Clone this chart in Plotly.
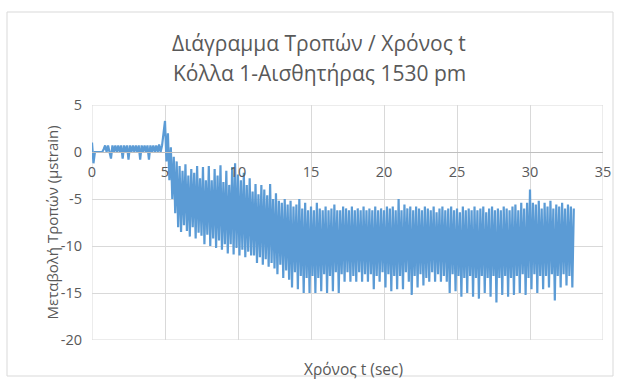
import plotly.graph_objects as go

# Sampling step of the strain recording (s)
dt = 0.1

# Strain change (μstrain), one row per second of recording
strain_rows = [
    [1.0, -1.2, 0.0, 0.0, 0.0, 0.0, 0.0, 0.0, 0.3, 0.7],
    [0.0, 0.7, 0.0, -0.7, 0.7, 0.0, 0.7, 0.0, 0.7, 0.0],
    [0.7, -0.7, 0.7, 0.0, 0.7, -0.8, 0.7, 0.0, 0.7, 0.0],
    [0.7, 0.0, 0.7, -0.8, 0.7, 0.0, 0.7, 0.0, 0.7, -0.8],
    [0.7, 0.0, 0.7, 0.0, 0.7, 0.0, 0.8, 0.0, 0.7, 1.8],
    [3.3, -1.0, 2.0, -3.0, 0.5, -5.0, -0.5, -6.5, -1.0, -8.0],
    [-1.5, -8.5, -2.0, -7.8, -1.3, -8.4, -2.5, -9.0, -1.8, -8.0],
    [-2.2, -9.2, -1.5, -8.6, -2.8, -8.9, -1.6, -9.8, -3.0, -8.8],
    [-1.5, -10.0, -3.0, -9.2, -1.8, -10.2, -2.5, -9.4, -1.4, -10.4],
    [-3.2, -9.8, -2.0, -10.8, -3.5, -9.8, -1.6, -10.9, -1.2, -10.2],
    [-2.4, -11.0, -3.0, -10.4, -2.2, -11.2, -3.5, -10.6, -2.8, -11.0],
    [-4.2, -11.0, -3.4, -11.8, -4.5, -11.2, -3.5, -12.0, -4.0, -11.4],
    [-4.6, -12.2, -3.4, -11.8, -5.0, -12.4, -4.4, -13.0, -5.2, -12.0],
    [-5.4, -13.4, -5.0, -12.6, -5.6, -13.6, -5.2, -14.4, -5.8, -12.8],
    [-5.6, -14.6, -5.0, -13.2, -6.0, -15.0, -5.4, -13.4, -6.2, -15.0],
    [-5.8, -13.2, -6.2, -15.0, -5.4, -13.4, -6.0, -14.8, -6.2, -13.0],
    [-5.8, -15.0, -6.2, -13.2, -6.0, -14.8, -5.6, -12.8, -6.2, -15.0],
    [-6.2, -13.0, -5.8, -13.8, -6.0, -12.8, -6.2, -13.8, -5.8, -13.2],
    [-6.2, -13.8, -6.0, -12.8, -6.2, -13.8, -5.8, -13.0, -6.2, -13.8],
    [-6.0, -13.0, -6.2, -14.6, -5.8, -13.2, -6.2, -13.8, -6.0, -12.8],
    [-6.2, -14.4, -5.8, -13.0, -6.0, -14.8, -5.8, -13.2, -6.2, -14.6],
    [-5.0, -13.2, -6.2, -14.6, -5.6, -12.8, -6.0, -13.8, -5.8, -15.2],
    [-6.2, -13.2, -5.8, -14.4, -6.0, -13.0, -6.2, -14.2, -5.8, -13.4],
    [-6.0, -13.8, -6.2, -12.8, -5.8, -13.8, -6.4, -13.0, -6.0, -13.8],
    [-5.8, -13.2, -6.2, -13.8, -6.0, -15.0, -5.8, -13.0, -6.2, -14.8],
    [-6.0, -13.2, -6.4, -15.4, -5.8, -13.4, -6.2, -15.0, -6.0, -13.2],
    [-6.2, -15.4, -5.8, -13.4, -6.2, -15.6, -6.0, -13.2, -5.8, -15.0],
    [-6.4, -13.4, -6.0, -15.4, -5.8, -13.2, -6.2, -16.0, -6.0, -13.4],
    [-6.2, -15.2, -5.8, -13.2, -6.0, -15.4, -6.2, -13.4, -5.8, -15.2],
    [-5.6, -13.2, -6.2, -15.0, -5.4, -13.0, -6.0, -15.2, -5.4, -13.4],
    [-4.0, -14.6, -5.4, -13.0, -5.6, -15.0, -5.2, -13.2, -6.0, -14.6],
    [-5.4, -13.2, -5.8, -14.4, -5.2, -13.0, -6.0, -15.8, -5.6, -13.2],
    [-5.8, -14.4, -5.4, -13.0, -6.0, -14.2, -5.6, -13.2, -5.8, -14.4],
    [-6.0],
]

strain = [v for row in strain_rows for v in row]
time_s = [round(i * dt, 2) for i in range(len(strain))]

x_ticks = [0, 5, 10, 15, 20, 25, 30, 35]
y_ticks = [5, 0, -5, -10, -15, -20]

title_lines = ["Διάγραμμα Τροπών / Χρόνος t", "Κόλλα 1-Αισθητήρας 1530 pm"]
x_title = "Χρόνος t (sec)"
y_title = "Μεταβολή Τροπών (μstrain)"

text_color = "#595959"
grid_color = "#d9d9d9"
font_family = "Open Sans"

fig = go.Figure()
fig.add_trace(go.Scatter(
    x=time_s, y=strain, mode="lines",
    line=dict(color="#5b9bd5", width=2.2),
    showlegend=False, hoverinfo="skip",
))

fig.update_layout(
    width=625, height=380,
    margin=dict(l=92, r=22, t=105, b=40),
    paper_bgcolor="white", plot_bgcolor="white",
    font=dict(family=font_family, color=text_color, size=12),
    xaxis=dict(
        range=[0, 35], tickvals=x_ticks, ticktext=[str(v) for v in x_ticks],
        showgrid=True, gridcolor=grid_color, gridwidth=1,
        zeroline=False, showline=True, linecolor="#bfbfbf", linewidth=1,
        anchor="free", position=0.8, ticks="", ticklabelstandoff=7,
        tickfont=dict(size=14.5, color=text_color),
    ),
    yaxis=dict(
        range=[-20, 5], tickvals=y_ticks, ticktext=[str(v) for v in y_ticks],
        showgrid=True, gridcolor=grid_color, gridwidth=1,
        zeroline=False, showline=False, ticks="", ticklabelstandoff=9,
        tickfont=dict(size=14.5, color=text_color),
    ),
)

# Plot-area frame lines at the axis limits
fig.add_shape(type="rect", xref="x", yref="y", x0=0, x1=35, y0=-20, y1=5,
              line=dict(color=grid_color, width=1), layer="below")

# Chart-area border
fig.add_shape(type="rect", xref="paper", yref="paper",
              x0=(7 - 92) / 511, x1=(613 - 92) / 511,
              y0=(340 - 376) / 235, y1=(340 - 12) / 235,
              line=dict(color="#d9d9d9", width=1))

for i, line in enumerate(title_lines):
    fig.add_annotation(text=line, xref="paper", yref="paper",
                       x=(319 - 92) / 511, y=(340 - (43 + 30 * i)) / 235,
                       xanchor="center", yanchor="middle", showarrow=False,
                       font=dict(size=21, color=text_color, family=font_family))

fig.add_annotation(text=x_title, xref="paper", yref="paper",
                   x=(353 - 92) / 511, y=(340 - 369) / 235,
                   xanchor="center", yanchor="middle", showarrow=False,
                   font=dict(size=15.5, color=text_color, family=font_family))
fig.add_annotation(text=y_title, xref="paper", yref="paper",
                   x=(51 - 92) / 511, y=0.5, textangle=-90,
                   xanchor="center", yanchor="middle", showarrow=False,
                   font=dict(size=15, color=text_color, family=font_family))

fig.write_html("out.html")
